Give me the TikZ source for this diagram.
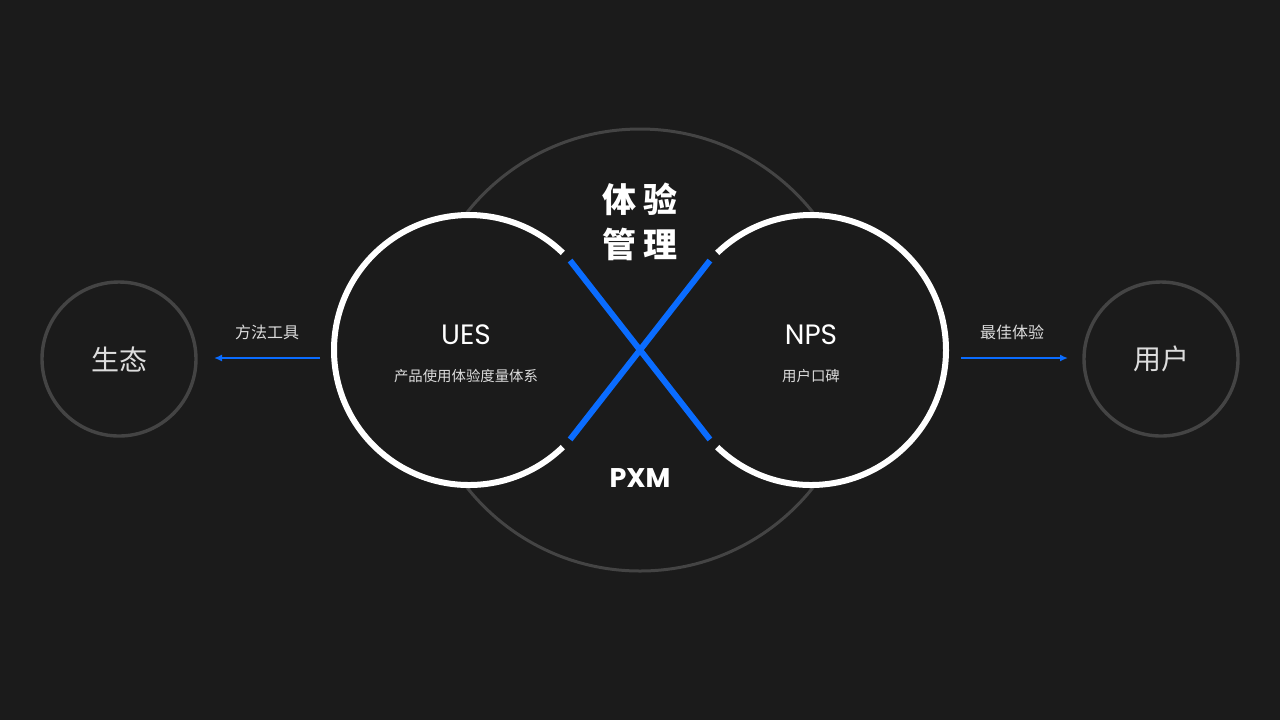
\documentclass[tikz,border=0pt]{standalone}
\usepackage{fontspec}
\setmainfont{Poppins}
\newfontfamily\cjk{Noto Sans CJK SC}
\usepackage{tikz}
\usetikzlibrary{calc,arrows.meta,positioning}
\definecolor{bg}{HTML}{1B1B1B}
\definecolor{ringgrey}{HTML}{444444}
\definecolor{pxmblue}{HTML}{0A6CFF}
\definecolor{softwhite}{HTML}{DDDDDD}
\tikzset{whitering/.style={white,line width=3pt},crossline/.style={pxmblue,line width=3pt}}

\begin{document}
\begin{tikzpicture}[x=0.5pt,y=-0.5pt]

\tikzset{greyring/.style={circle,draw=ringgrey,line width=1.7pt,minimum size=77pt,inner sep=0pt,font=\cjk\fontsize{14}{14}\selectfont,text=softwhite},
flow/.style={pxmblue,line width=1pt,-{Latex[length=4pt,width=3.5pt]}},
flowlabel/.style={font=\cjk\fontsize{8}{8}\selectfont,text=softwhite,inner sep=0pt},
titlenode/.style={font=\fontsize{14}{14}\selectfont,text=white,inner sep=0pt},
subnode/.style={font=\cjk\fontsize{7.2}{7.2}\selectfont,text=softwhite,inner sep=0pt},
bignode/.style={font=\cjk\bfseries\fontsize{17}{17}\selectfont,text=white,inner sep=0pt}}

% Background
\fill[bg] (0,0) rectangle (1280,720);
\useasboundingbox (0,0) rectangle (1280,720);

% Centres
\coordinate (uesC) at (469,350);
\coordinate (npsC) at (811,350);
\coordinate (pxm) at (640,350);

% PXM ring
\draw[ringgrey,line width=1.5pt] (pxm) circle[radius=221];

% Side circles
\foreach \n/\x/\t in {eco/119/生态,user/1161/用户} \node[greyring] (\n) at (\x,359) {\t};

% White rings
\fill[bg] (uesC) circle[radius=135]; \fill[bg] (npsC) circle[radius=135];
\draw[whitering] ($(uesC)+(46:135)$) arc[start angle=46,end angle=314,radius=135];
\draw[whitering] ($(npsC)+(134:135)$) arc[start angle=134,end angle=-134,radius=135];

% Blue cross
\coordinate (xa) at ($(uesC)+(41.5:135)$); \coordinate (xb) at ($(npsC)+(-138.5:135)$);
\coordinate (xc) at ($(uesC)+(-41.5:135)$); \coordinate (xd) at ($(npsC)+(138.5:135)$);
\draw[crossline] (xa) -- (xb); \draw[crossline] (xc) -- (xd);

% Titles
\node[bignode] (tiyan) at (640,199) {体\hspace{3.5pt}验};
\node[bignode] (guanli) at (640,244) {管\hspace{3.5pt}理};
\node[titlenode,font=\bfseries\fontsize{13.5}{13.5}\selectfont] (pxmlabel) at (640,478) {PXM};

\node[titlenode] (ues) at (466,335) {UES};
\node[subnode] (uesdesc) at (466,376) {产品使用体验度量体系};
\node[titlenode] (nps) at (811,335) {NPS};
\node[subnode] (npsdesc) at (811,376) {用户口碑};

% Arrows
\coordinate (toolS) at (320,358); \coordinate (toolE) at (214,358);
\coordinate (bestS) at (961,358); \coordinate (bestE) at (1068,358);
\draw[flow] (toolS) -- (toolE);
\draw[flow] (bestS) -- (bestE);
\node[flowlabel] (toollabel) at (267,332) {方法工具};
\node[flowlabel] (bestlabel) at (1012,332) {最佳体验};

\end{tikzpicture}
\end{document}
